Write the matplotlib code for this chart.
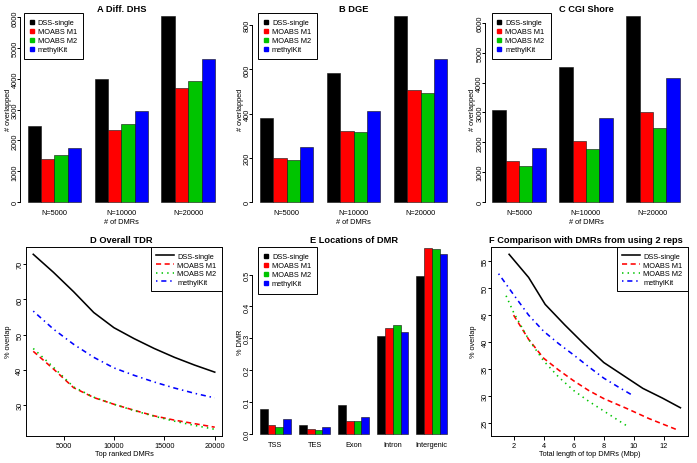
import matplotlib

matplotlib.use("Agg")
import matplotlib.pyplot as plt
from matplotlib.lines import Line2D


# ---------------------------------------------------------
# 1. Data
# ---------------------------------------------------------

methods = ["DSS-single", "MOABS M1", "MOABS M2", "methylKit"]
colors = ["black", "#FF0000", "#00C400", "#0000FF"]

n_dmr_groups = ["N=5000", "N=10000", "N=20000"]

dhs_dss = [2460, 3980, 6050]
dhs_m1 = [1400, 2340, 3700]
dhs_m2 = [1520, 2530, 3920]
dhs_mk = [1770, 2970, 4640]

dge_dss = [382, 583, 843]
dge_m1 = [200, 321, 505]
dge_m2 = [190, 318, 492]
dge_mk = [249, 410, 648]

shore_dss = [3070, 4540, 6240]
shore_m1 = [1370, 2060, 3030]
shore_m2 = [1200, 1780, 2490]
shore_mk = [1820, 2830, 4150]

location_names = ["TSS", "TES", "Exon", "Intron", "Intergenic"]
loc_dss = [0.080, 0.029, 0.092, 0.306, 0.495]
loc_m1 = [0.028, 0.016, 0.042, 0.333, 0.584]
loc_m2 = [0.023, 0.014, 0.040, 0.343, 0.581]
loc_mk = [0.046, 0.021, 0.054, 0.319, 0.563]

top_ranked = [2000, 4000, 6000, 8000, 10000, 12000, 14000, 16000, 18000, 20000]
tdr_dss = [72.8, 67.7, 62.2, 56.3, 52.0, 48.9, 46.1, 43.6, 41.4, 39.4]
tdr_m1 = [45.3, 40.3, 35.0, 32.2, 30.3, 28.6, 27.0, 25.8, 24.8, 23.8]
tdr_m2 = [46.1, 40.8, 35.2, 32.3, 30.3, 28.5, 26.9, 25.5, 24.3, 23.2]
tdr_mk = [56.7, 51.6, 47.3, 43.6, 40.6, 38.5, 36.6, 34.9, 33.4, 32.1]

rep_len_dss = [1.7, 3.0, 4.1, 5.4, 6.7, 8.0, 9.3, 10.6, 11.9, 13.1]
rep_ovl_dss = [56.3, 52.0, 47.0, 43.2, 39.6, 36.2, 33.8, 31.4, 29.6, 27.8]
rep_len_m1 = [2.0, 3.0, 4.0, 5.0, 6.0, 7.0, 8.0, 9.5, 11.0, 12.8]
rep_ovl_m1 = [45.0, 40.5, 37.0, 34.8, 32.8, 31.0, 29.5, 27.7, 25.8, 23.8]
rep_len_m2 = [1.5, 2.0, 3.0, 4.0, 5.0, 6.0, 7.0, 8.0, 9.0, 9.5]
rep_ovl_m2 = [48.6, 45.5, 40.5, 36.5, 33.5, 31.0, 29.0, 27.2, 25.4, 24.5]
rep_len_mk = [1.0, 2.0, 3.0, 4.0, 5.0, 6.0, 7.0, 8.0, 9.0, 9.8]
rep_ovl_mk = [52.7, 48.8, 45.0, 42.0, 39.7, 37.6, 35.4, 33.3, 31.6, 30.3]


# ---------------------------------------------------------
# 2. Figure settings
# ---------------------------------------------------------

W, H = 697, 464
FS = 5.3
TS = 6.7
PX = 0.72  # points per pixel at dpi 100

plt.rcParams["font.family"] = ["Liberation Sans", "DejaVu Sans"]
plt.rcParams["font.size"] = FS
plt.rcParams["axes.linewidth"] = 0.7

fig = plt.figure(figsize=(W / 100, H / 100), dpi=100)


def px_axes(left, top, right, bottom):
    return fig.add_axes(
        [left / W, 1 - bottom / H, (right - left) / W, (bottom - top) / H]
    )


def fig_text(x, y, text, **kwargs):
    fig.text(x / W, 1 - y / H, text, ha="center", va="center", **kwargs)


def add_legend(ax, handles, x, y, loc, borderpad, handlelength, handletextpad,
               labelspacing):
    legend = ax.legend(
        handles=handles,
        loc=loc,
        bbox_to_anchor=(x / W, 1 - y / H),
        bbox_transform=fig.transFigure,
        borderaxespad=0,
        fontsize=FS,
        frameon=True,
        fancybox=False,
        framealpha=1,
        edgecolor="black",
        borderpad=borderpad,
        labelspacing=labelspacing,
        handlelength=handlelength,
        handletextpad=handletextpad,
    )
    legend.get_frame().set_linewidth(0.7)


def style_y(ax, yticks, labels, tick_px, pad_px):
    ax.set_yticks(yticks)
    ax.set_yticklabels(labels, rotation=90, va="center")
    ax.tick_params(axis="y", length=tick_px * PX, width=0.7,
                   pad=pad_px * PX, labelsize=FS)


# ---------------------------------------------------------
# 3. Bar panels
# ---------------------------------------------------------

def draw_bars(ax, names, series, yticks, ylabels):
    n_groups = len(names)
    for k, values in enumerate(series):
        x = [1 + g * 5 + k for g in range(n_groups)]
        ax.bar(
            x,
            values,
            width=1,
            align="edge",
            color=colors[k],
            edgecolor="#111111",
            linewidth=0.4,
        )

    last = n_groups * 5
    ax.set_xlim(1 - 0.04 * (last - 1), last + 0.04 * (last - 1))
    top = max(max(v) for v in series)
    ax.set_ylim(-0.04 * top, 1.04 * top)

    ax.set_xticks([1 + g * 5 + 2 for g in range(n_groups)])
    ax.set_xticklabels(names)
    ax.spines["bottom"].set_position(("data", 0))
    ax.tick_params(axis="x", length=0, pad=7.4 * PX, labelsize=FS)

    for side in ["top", "right", "bottom"]:
        ax.spines[side].set_visible(False)
    ax.spines["left"].set_bounds(yticks[0], yticks[-1])
    style_y(ax, yticks, ylabels, 2.7, -1.4)

    for bar in ax.patches:
        bar.set_clip_on(False)


square_handles = [
    Line2D([], [], linestyle="none", marker="s", markersize=2.6,
           color=c, label=m)
    for c, m in zip(colors, methods)
]

bar_panels = [
    ("A Diff. DHS", [dhs_dss, dhs_m1, dhs_m2, dhs_mk],
     [0, 1000, 2000, 3000, 4000, 5000, 6000], 24),
    ("B DGE", [dge_dss, dge_m1, dge_m2, dge_mk],
     [0, 200, 400, 600, 800], 26),
    ("C CGI Shore", [shore_dss, shore_m1, shore_m2, shore_mk],
     [0, 1000, 2000, 3000, 4000, 5000, 6000], 27),
]

for col, (title, series, yticks, legend_x) in enumerate(bar_panels):
    offset = col * W / 3
    ax = px_axes(offset + 20, 9.3, offset + 222.6, 210.5)
    draw_bars(ax, n_dmr_groups, series, yticks, [str(t) for t in yticks])
    add_legend(ax, square_handles, offset + legend_x, 13.8, "upper left",
               0.85, 0.4, 0.6, 0.25)
    fig_text(offset + 121.3, 9, title, fontsize=TS, fontweight="bold")
    fig_text(offset + 121.3, 222.7, "# of DMRs", fontsize=FS)
    fig_text(offset + 8.3, 110, "# overlapped", fontsize=FS, rotation=90)


# E: locations of DMR
offset = W / 3
ax = px_axes(offset + 20, 241.3, offset + 222.6, 442.5)
e_ticks = [0.0, 0.1, 0.2, 0.3, 0.4, 0.5]
draw_bars(ax, location_names, [loc_dss, loc_m1, loc_m2, loc_mk],
          e_ticks, [f"{t:.1f}" for t in e_ticks])
add_legend(ax, square_handles, 258.3, 248, "upper left", 0.85, 0.4, 0.6, 0.25)
fig_text(offset + 121.3, 241, "E Locations of DMR", fontsize=TS, fontweight="bold")
fig_text(240, 342, "% DMR", fontsize=FS, rotation=90)


# ---------------------------------------------------------
# 4. Line panels
# ---------------------------------------------------------

line_styles = [
    dict(color="black", linestyle="-"),
    dict(color="#FF0000", dashes=(3.2, 2.2)),
    dict(color="#00C400", dashes=(0.9, 2.6)),
    dict(color="#0000FF", dashes=(0.9, 2.4, 3.2, 2.4)),
]
LW = 1.15

line_handles = [
    Line2D([], [], linewidth=LW, label=m, **s)
    for m, s in zip(methods, line_styles)
]


def style_box(ax, xs, ys, xticks, yticks):
    xmin, xmax = min(min(x) for x in xs), max(max(x) for x in xs)
    ymin, ymax = min(min(y) for y in ys), max(max(y) for y in ys)
    ax.set_xlim(xmin - 0.04 * (xmax - xmin), xmax + 0.04 * (xmax - xmin))
    ax.set_ylim(ymin - 0.04 * (ymax - ymin), ymax + 0.04 * (ymax - ymin))
    ax.set_xticks(xticks)
    ax.set_xticklabels([str(t) for t in xticks])
    ax.tick_params(axis="x", length=3.5 * PX, width=0.7, pad=2.0 * PX,
                   labelsize=FS)
    style_y(ax, yticks, [str(t) for t in yticks], 3.5, -0.8)


# D: overall TDR
ax = px_axes(26, 248.3, 222, 437.3)
for values, style, label in zip([tdr_dss, tdr_m1, tdr_m2, tdr_mk], line_styles, methods):
    ax.plot(top_ranked, values, linewidth=LW, label=label, **style)
style_box(ax, [top_ranked], [tdr_dss, tdr_m1, tdr_m2, tdr_mk],
          [5000, 10000, 15000, 20000], [30, 40, 50, 60, 70])
add_legend(ax, line_handles, 222, 248.3, "upper right", 0.75, 2.4, 0.45, 0.2)
fig_text(121.7, 241, "D Overall TDR", fontsize=TS, fontweight="bold")
fig_text(124, 454.7, "Top ranked DMRs", fontsize=FS)
fig_text(8.3, 342, "% overlap", fontsize=FS, rotation=90)


# F: comparison with DMRs from 2 reps
ax = px_axes(491.3, 248.3, 687.7, 437.3)
rep_x = [rep_len_dss, rep_len_m1, rep_len_m2, rep_len_mk]
rep_y = [rep_ovl_dss, rep_ovl_m1, rep_ovl_m2, rep_ovl_mk]
for xv, yv, style, label in zip(rep_x, rep_y, line_styles, methods):
    ax.plot(xv, yv, linewidth=LW, label=label, **style)
style_box(ax, rep_x, rep_y, [2, 4, 6, 8, 10, 12], [25, 30, 35, 40, 45, 50, 55])
add_legend(ax, line_handles, 687.7, 248.3, "upper right", 0.75, 2.4, 0.45, 0.2)
fig_text(586, 241, "F Comparison with DMRs from using 2 reps",
         fontsize=TS, fontweight="bold")
fig_text(590, 454.7, "Total length of top DMRs (Mbp)", fontsize=FS)
fig_text(473.5, 342, "% overlap", fontsize=FS, rotation=90)


fig.savefig("out.png", dpi=100)
